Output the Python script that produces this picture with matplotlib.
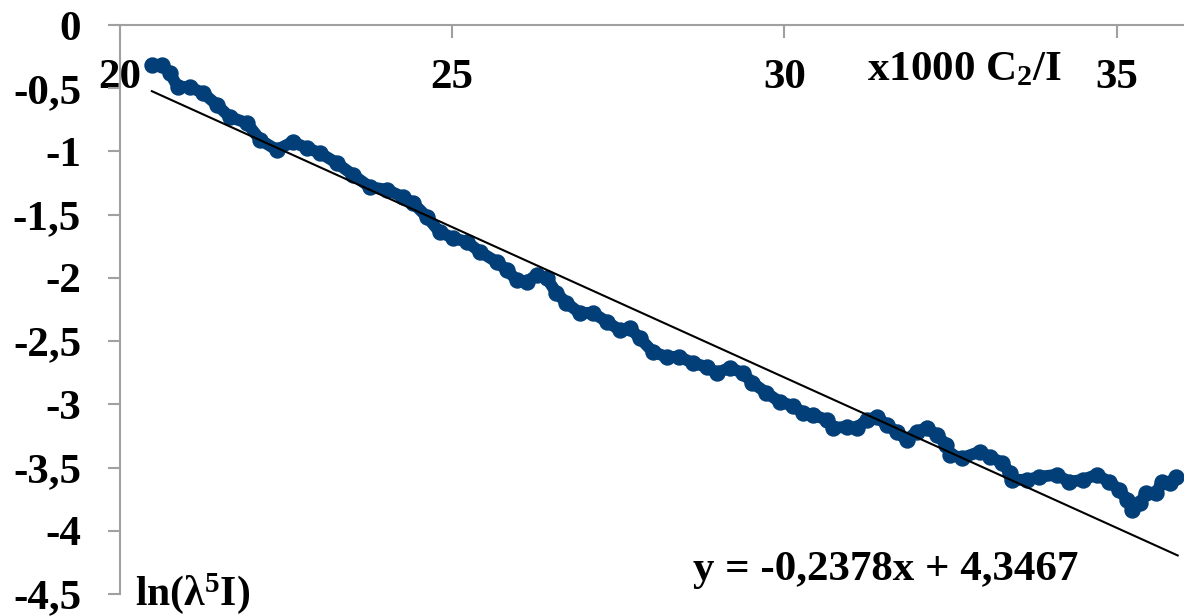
import numpy as np
import matplotlib
matplotlib.use('Agg')
import matplotlib.pyplot as plt
from matplotlib.ticker import FuncFormatter

# values
x_vals = [20.48, 20.63, 20.75, 20.87, 21.05, 21.25, 21.46, 21.65, 21.91, 22.11,
          22.36, 22.60, 22.81, 23.01, 23.26, 23.51, 23.76, 24.02, 24.26, 24.41,
          24.62, 24.81, 25.01, 25.22, 25.42, 25.67, 25.82, 25.97, 26.12, 26.27,
          26.42, 26.57, 26.72, 26.92, 27.12, 27.33, 27.52, 27.67, 27.82, 28.02,
          28.23, 28.42, 28.62, 28.83, 28.98, 29.18, 29.37, 29.52, 29.73, 29.93,
          30.13, 30.28, 30.43, 30.64, 30.73, 30.94, 31.09, 31.24, 31.39, 31.54,
          31.69, 31.84, 31.99, 32.14, 32.29, 32.44, 32.49, 32.68, 32.94, 33.09,
          33.28, 33.39, 33.43, 33.65, 33.84, 34.10, 34.29, 34.49, 34.70, 34.89,
          35.04, 35.16, 35.23, 35.35, 35.45, 35.60, 35.68, 35.80, 35.90]
y_vals = [-0.316, -0.316, -0.379, -0.490, -0.490, -0.538, -0.632, -0.727, -0.775, -0.909,
          -0.988, -0.925, -0.972, -1.012, -1.091, -1.186, -1.281, -1.304, -1.360, -1.407,
          -1.518, -1.636, -1.684, -1.715, -1.794, -1.874, -1.937, -2.016, -2.032, -1.976,
          -2.000, -2.119, -2.198, -2.277, -2.277, -2.348, -2.411, -2.395, -2.474, -2.585,
          -2.625, -2.625, -2.672, -2.704, -2.751, -2.711, -2.751, -2.830, -2.909, -2.980,
          -3.012, -3.067, -3.083, -3.123, -3.186, -3.178, -3.186, -3.123, -3.099, -3.162,
          -3.217, -3.281, -3.217, -3.186, -3.241, -3.320, -3.399, -3.423, -3.375, -3.415,
          -3.462, -3.542, -3.597, -3.597, -3.573, -3.557, -3.613, -3.597, -3.557, -3.613,
          -3.676, -3.755, -3.834, -3.779, -3.700, -3.700, -3.613, -3.621, -3.573]

TREND_SLOPE = -0.2378
TREND_INTERCEPT = 4.3467
trend_x = [20.48, 35.92]

x_ticks = [20, 25, 30, 35]
y_ticks = [0, -0.5, -1, -1.5, -2, -2.5, -3, -3.5, -4, -4.5]

BLUE = '#023F78'
GREY = '#A0A0A0'
FS = 31

plt.rcParams['font.family'] = ['Liberation Serif', 'DejaVu Serif']
plt.rcParams['font.weight'] = 'bold'
plt.rcParams['mathtext.default'] = 'regular'

fig = plt.figure(figsize=(12.01, 6.16), dpi=100)
ax = fig.add_axes([120 / 1201, 1 - 594 / 616, (1183 - 120) / 1201, (594 - 25) / 616])

ax.plot(x_vals, y_vals, color=BLUE, lw=8.5, marker='o', ms=10.8, mec=BLUE, mfc=BLUE,
        solid_capstyle='round', solid_joinstyle='round', zorder=2)

tx = np.array(trend_x)
ax.plot(tx, TREND_SLOPE * tx + TREND_INTERCEPT, color='black', lw=1.5, zorder=3)

ax.set_xlim(20, 36)
ax.set_ylim(-4.5, 0)

for side in ['right', 'bottom']:
    ax.spines[side].set_visible(False)
for side in ['left', 'top']:
    ax.spines[side].set_color(GREY)
    ax.spines[side].set_linewidth(1.5)

ax.xaxis.tick_top()
ax.set_xticks(x_ticks)
ax.set_yticks(y_ticks)
ax.tick_params(axis='x', direction='in', length=9, width=1.5, color=GREY,
               labelsize=FS, pad=-52)
ax.tick_params(axis='y', direction='out', length=9, width=1.5, color=GREY,
               labelsize=FS, pad=19)
ax.yaxis.set_major_formatter(FuncFormatter(lambda v, p: f'{v:g}'.replace('.', ',')))

ax.text(31.25, -0.435, 'x1000 C$_\\mathregular{2}$/I', fontsize=FS, fontweight='bold',
        ha='left', va='baseline')
ax.text(20.23, -4.585, 'ln(\u03bb$^\\mathregular{5}$I)', fontsize=30, fontweight='bold',
        ha='left', va='baseline', clip_on=False)
ax.text(28.62, -4.39, 'y = -0,2378x + 4,3467', fontsize=FS, fontweight='bold',
        ha='left', va='baseline')

fig.savefig('out.png', dpi=100)
